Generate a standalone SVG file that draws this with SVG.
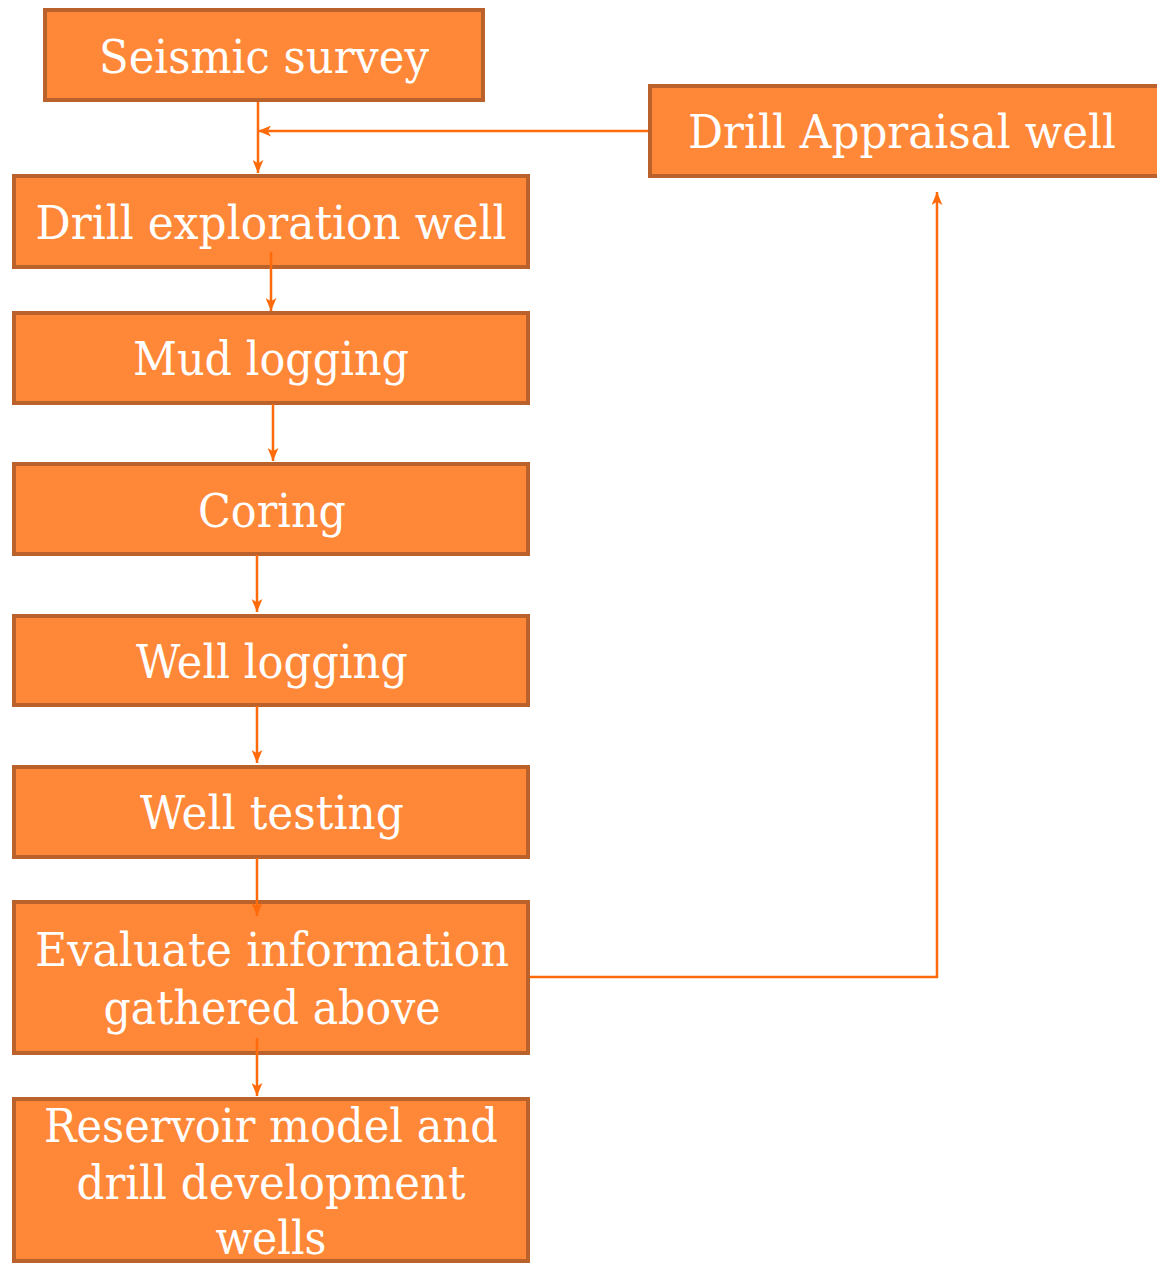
<svg xmlns="http://www.w3.org/2000/svg" width="1157" height="1265" viewBox="0 0 1157 1265">
<style>
.box{fill:#FF8838;stroke:#BA612C;stroke-width:4;}
.t{font-family:"DejaVu Serif","Liberation Serif",serif;font-size:47px;fill:#FFFFFF;text-anchor:middle;}
.c{fill:none;stroke:#FF6A0A;stroke-width:2.5;}
</style>
<defs>
<marker id="ah" viewBox="0 0 12 10" refX="12" refY="5" markerWidth="13" markerHeight="11" markerUnits="userSpaceOnUse" orient="auto">
<path d="M0,0 L12,5 L0,10 L3,5 z" fill="#FF6A0A"/>
</marker>
</defs>
<rect width="1157" height="1265" fill="#FFFFFF"/>
<g id="seismic"><rect class="box" x="45" y="10" width="438" height="90"/><text class="t" x="264" y="73" textLength="330" lengthAdjust="spacingAndGlyphs">Seismic survey</text></g>
<g id="appraisal"><rect class="box" x="650" y="86" width="520" height="90"/><text class="t" x="902" y="148" textLength="428" lengthAdjust="spacingAndGlyphs">Drill Appraisal well</text></g>
<g id="exploration"><rect class="box" x="14" y="176" width="514" height="91"/><text class="t" x="271" y="239" textLength="471" lengthAdjust="spacingAndGlyphs">Drill exploration well</text></g>
<g id="mud"><rect class="box" x="14" y="313" width="514" height="90"/><text class="t" x="271" y="375" textLength="276" lengthAdjust="spacingAndGlyphs">Mud logging</text></g>
<g id="coring"><rect class="box" x="14" y="464" width="514" height="90"/><text class="t" x="272" y="527" textLength="148" lengthAdjust="spacingAndGlyphs">Coring</text></g>
<g id="welllogging"><rect class="box" x="14" y="616" width="514" height="89"/><text class="t" x="272" y="678" textLength="272" lengthAdjust="spacingAndGlyphs">Well logging</text></g>
<g id="welltesting"><rect class="box" x="14" y="767" width="514" height="90"/><text class="t" x="272" y="829" textLength="264" lengthAdjust="spacingAndGlyphs">Well testing</text></g>
<g id="evaluate"><rect class="box" x="14" y="902" width="514" height="151"/><text class="t" x="272" y="966" textLength="474" lengthAdjust="spacingAndGlyphs">Evaluate information</text><text class="t" x="272" y="1024" textLength="337" lengthAdjust="spacingAndGlyphs">gathered above</text></g>
<g id="reservoir"><rect class="box" x="14" y="1099" width="514" height="162"/><text class="t" x="271" y="1142" textLength="454" lengthAdjust="spacingAndGlyphs">Reservoir model and</text><text class="t" x="271" y="1199" textLength="389" lengthAdjust="spacingAndGlyphs">drill development</text><text class="t" x="271" y="1254" textLength="111" lengthAdjust="spacingAndGlyphs">wells</text></g>
<g id="connectors">
<path class="c" d="M258,102 L258,173" marker-end="url(#ah)"/>
<path class="c" d="M648,131 L258,131" marker-end="url(#ah)"/>
<path class="c" d="M271,252 L271,311" marker-end="url(#ah)"/>
<path class="c" d="M273,404 L273,461" marker-end="url(#ah)"/>
<path class="c" d="M257,555 L257,612" marker-end="url(#ah)"/>
<path class="c" d="M257,706 L257,763" marker-end="url(#ah)"/>
<path class="c" d="M257,858 L257,916" marker-end="url(#ah)"/>
<path class="c" d="M257,1038 L257,1096" marker-end="url(#ah)"/>
<path class="c" d="M530,977 L937,977 L937,192" marker-end="url(#ah)"/>
</g>
</svg>
